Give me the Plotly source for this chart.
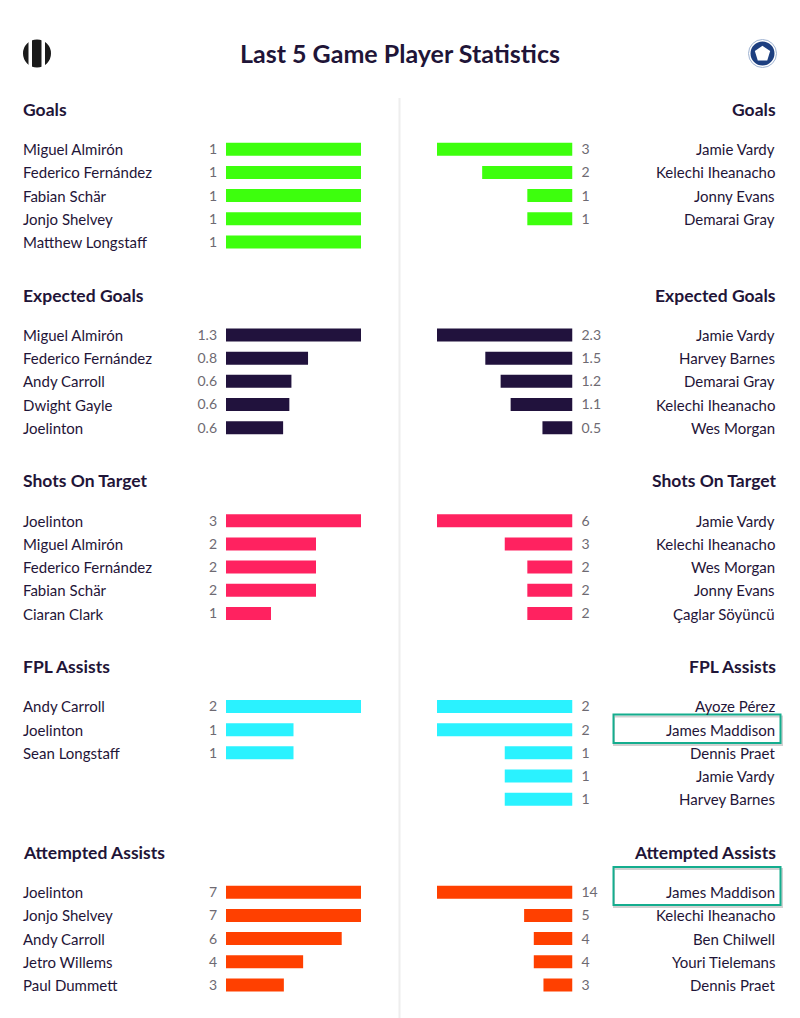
import plotly.graph_objects as go
from plotly.subplots import make_subplots

W = 800
H = 1018
FONT = "Lato"
INK = "#1f1538"
GREY = "#6e6a72"

title = "Last 5 Game Player Statistics"
sections = ["Goals", "Expected Goals", "Shots On Target", "FPL Assists", "Attempted Assists"]
colors = ["#3dff0d", "#21123d", "#ff2260", "#2af2ff", "#ff4000"]

goals_left_names = ["Miguel Almirón", "Federico Fernández", "Fabian Schär", "Jonjo Shelvey", "Matthew Longstaff"]
goals_left_vals = [1, 1, 1, 1, 1]
goals_right_names = ["Jamie Vardy", "Kelechi Iheanacho", "Jonny Evans", "Demarai Gray"]
goals_right_vals = [3, 2, 1, 1]

xg_left_names = ["Miguel Almirón", "Federico Fernández", "Andy Carroll", "Dwight Gayle", "Joelinton"]
xg_left_vals = [1.3, 0.79, 0.63, 0.61, 0.55]
xg_left_labels = ["1.3", "0.8", "0.6", "0.6", "0.6"]
xg_right_names = ["Jamie Vardy", "Harvey Barnes", "Demarai Gray", "Kelechi Iheanacho", "Wes Morgan"]
xg_right_vals = [2.3, 1.48, 1.22, 1.05, 0.51]
xg_right_labels = ["2.3", "1.5", "1.2", "1.1", "0.5"]

sot_left_names = ["Joelinton", "Miguel Almirón", "Federico Fernández", "Fabian Schär", "Ciaran Clark"]
sot_left_vals = [3, 2, 2, 2, 1]
sot_right_names = ["Jamie Vardy", "Kelechi Iheanacho", "Wes Morgan", "Jonny Evans", "Çaglar Söyüncü"]
sot_right_vals = [6, 3, 2, 2, 2]

assists_left_names = ["Andy Carroll", "Joelinton", "Sean Longstaff"]
assists_left_vals = [2, 1, 1]
assists_right_names = ["Ayoze Pérez", "James Maddison", "Dennis Praet", "Jamie Vardy", "Harvey Barnes"]
assists_right_vals = [2, 2, 1, 1, 1]

attempted_left_names = ["Joelinton", "Jonjo Shelvey", "Andy Carroll", "Jetro Willems", "Paul Dummett"]
attempted_left_vals = [7, 7, 6, 4, 3]
attempted_right_names = ["James Maddison", "Kelechi Iheanacho", "Ben Chilwell", "Youri Tielemans", "Dennis Praet"]
attempted_right_vals = [14, 5, 4, 4, 3]

left_panels = [
    (goals_left_names, goals_left_vals, [str(v) for v in goals_left_vals]),
    (xg_left_names, xg_left_vals, xg_left_labels),
    (sot_left_names, sot_left_vals, [str(v) for v in sot_left_vals]),
    (assists_left_names, assists_left_vals, [str(v) for v in assists_left_vals]),
    (attempted_left_names, attempted_left_vals, [str(v) for v in attempted_left_vals]),
]
right_panels = [
    (goals_right_names, goals_right_vals, [str(v) for v in goals_right_vals]),
    (xg_right_names, xg_right_vals, xg_right_labels),
    (sot_right_names, sot_right_vals, [str(v) for v in sot_right_vals]),
    (assists_right_names, assists_right_vals, [str(v) for v in assists_right_vals]),
    (attempted_right_names, attempted_right_vals, [str(v) for v in attempted_right_vals]),
]


def px(x):
    return x / W


def py(y):
    return 1 - y / H


fig = make_subplots(rows=5, cols=2)

for i, section in enumerate(sections):
    top = 137.6 + 185.75 * i
    bottom = top + 116
    for col, panel in enumerate([left_panels[i], right_panels[i]], start=1):
        names, vals, labels = panel
        ranks = list(range(len(names)))
        fig.add_trace(go.Bar(x=vals, y=ranks, orientation="h", marker=dict(color=colors[i], line=dict(width=0)),
                             showlegend=False, hoverinfo="skip"), row=i + 1, col=col)
        if col == 1:
            x_domain = [px(226), px(361)]
            x_range = [0, max(vals)]
            side = "left"
        else:
            x_domain = [px(437), px(572.5)]
            x_range = [max(vals), 0]
            side = "right"
        fig.update_xaxes(domain=x_domain, range=x_range, visible=False, row=i + 1, col=col)
        fig.update_yaxes(domain=[py(bottom), py(top)], range=[4.5, -0.5], side=side, tickmode="array",
                         tickvals=ranks, ticktext=labels, ticks="", showgrid=False, zeroline=False, showline=False,
                         ticklabelstandoff=8, tickfont=dict(family=FONT, size=14, color=GREY), row=i + 1, col=col)

        # player names sit on the same rows as the bars
        yref = "y" if (i == 0 and col == 1) else f"y{i * 2 + col}"
        for rank, name in zip(ranks, names):
            fig.add_annotation(text=name, xref="paper", yref=yref, x=px(20.5) if col == 1 else px(777), y=rank,
                               xanchor="left" if col == 1 else "right", yanchor="middle", showarrow=False,
                               font=dict(family=FONT, size=15, color=INK))

    header_y = py(109.3 + 185.75 * i)
    fig.add_annotation(text=f"<b>{section}</b>", xref="paper", yref="paper", x=px(20.5), y=header_y, xanchor="left",
                       yanchor="middle", showarrow=False, font=dict(family=FONT, size=17.5, color=INK))
    fig.add_annotation(text=f"<b>{section}</b>", xref="paper", yref="paper", x=px(777.5), y=header_y, xanchor="right",
                       yanchor="middle", showarrow=False, font=dict(family=FONT, size=17.5, color=INK))

fig.add_annotation(text=f"<b>{title}</b>", xref="paper", yref="paper", x=px(400), y=py(53.3), xanchor="center",
                   yanchor="middle", showarrow=False, font=dict(family=FONT, size=25, color=INK))


def rect(x0, y0, x1, y1, **kw):
    fig.add_shape(type="rect", xref="paper", yref="paper", x0=px(x0), x1=px(x1), y0=py(y0), y1=py(y1), **kw)


def circle(cx, cy, r, **kw):
    fig.add_shape(type="circle", xref="paper", yref="paper", x0=px(cx - r), x1=px(cx + r), y0=py(cy - r),
                  y1=py(cy + r), **kw)


# centre divider
rect(398.5, 98, 400.5, 1018, fillcolor="#eeeeee", line_width=0)

# highlight boxes round James Maddison, soft shadow first
for y0, y1 in [(714.5, 743), (867, 905)]:
    rect(614, y0 + 2, 782, y1 + 2, line=dict(color="rgba(0,0,0,0.18)", width=2), fillcolor="rgba(0,0,0,0)")
    rect(613.5, y0, 780.5, y1, line=dict(color="#14ad8e", width=2), fillcolor="rgba(0,0,0,0)")

# Newcastle badge: black and white stripes in a circle
circle(37, 53.5, 14, fillcolor="#1a1a1a", line_width=0)
rect(28.5, 39, 32, 68, fillcolor="#ffffff", line_width=0)
rect(41.5, 39, 45, 68, fillcolor="#ffffff", line_width=0)

# Leicester badge: blue disc with a pale ring and white flower
circle(762.5, 53.5, 14, fillcolor="#ffffff", line=dict(color="#9fb3d2", width=1))
circle(762.5, 53.5, 12, fillcolor="#1d3f80", line_width=0)
fig.add_shape(type="path", xref="paper", yref="paper", fillcolor="#ffffff", line=dict(color="#ffffff", width=2),
              path="M {} {} L {} {} L {} {} L {} {} L {} {} Z".format(
                  px(762.5), py(47), px(769), py(51.5), px(766.5), py(59.5), px(758.5), py(59.5), px(756), py(51.5)))

fig.update_layout(width=W, height=H, margin=dict(l=0, r=0, t=0, b=0), paper_bgcolor="#ffffff",
                  plot_bgcolor="#ffffff", font=dict(family=FONT), bargap=0.44)

fig.write_html("out.html", config=dict(displayModeBar=False), post_script="document.body.style.margin='0';")
